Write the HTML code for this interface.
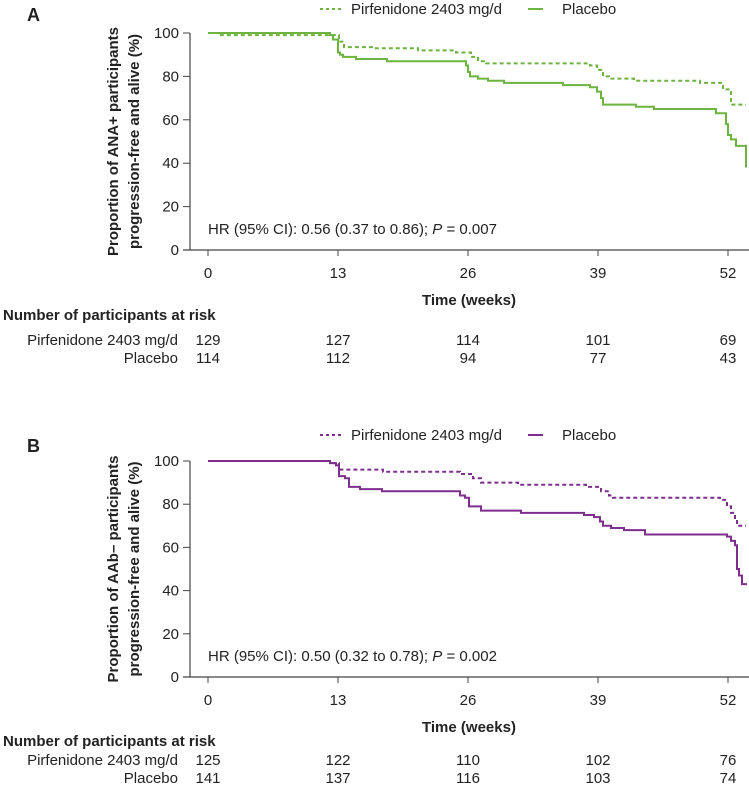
<!DOCTYPE html>
<html><head><meta charset="utf-8"><style>
body{margin:0;background:#fff;font-family:"Liberation Sans",sans-serif;}
svg text{font-family:"Liberation Sans",sans-serif;fill:#222;}
</style></head><body>
<svg id="c" width="749" height="796" xmlns="http://www.w3.org/2000/svg"></svg>
<script>
// weeks of step changes and survival (%) values
const xTicks=[0,13,26,39,52];
const yTicks=[0,20,40,60,80,100];
const aPirfT=[0,1,13.1,13.6,16.4,21,24.8,26.3,27,27.8,38.2,38.9,39.5,40.1,42.6,49.2,51.5,52.3,53.8];
const aPirfS=[100,99,96,93.5,93,92,91,89,87,86,85,83,80,79,78,77,74,67,67];
const aPlacT=[0,12.2,12.5,13,13.2,13.5,14.8,17.9,25.8,26,26.2,27,28,29.6,35.5,38.2,38.9,39.3,39.5,42.8,44.6,50.8,51.8,52,52.3,52.8,53.8];
const aPlacS=[100,99,97,91,90,89,88,87,85,82,80,79,78,77,76,75,73,70,67,66,65,63,58,53,51,48,38];
const bPirfT=[0,12.2,13.1,17.5,25.2,26.5,27.3,31,37.8,39.3,40.1,40.5,51.2,51.9,52.3,52.7,52.9,53.8];
const bPirfS=[100,99,96,95,94,92,90,89,88,86,84,83,82,79,76,73,70,70];
const bPlacT=[0,12.2,12.8,13.1,13.7,14.1,15.2,17.4,25.2,25.7,26.1,27.3,31.3,37.6,38.6,39.2,39.5,40.3,41.6,43.7,51.9,52.3,52.7,52.9,53.1,53.4,53.9];
const bPlacS=[100,99,98,93,92,88,87,86,84,83,79,77,76,75,74,72,70,69,68,66,65,63,61,50,47,43,43];
const riskA={pirf:[129,127,114,101,69],plac:[114,112,94,77,43]};
const riskB={pirf:[125,122,110,102,76],plac:[141,137,116,103,74]};

const svg=document.getElementById('c');
const NS='http://www.w3.org/2000/svg';
function el(t,a,txt){const e=document.createElementNS(NS,t);for(const k in a)e.setAttribute(k,a[k]);if(txt!==undefined)e.textContent=txt;svg.appendChild(e);return e;}

function panel(o){
  const X0=208,XS=10;
  const y0=o.y0,yh=o.y0-o.y100;
  const sx=w=>X0+w*XS, sy=v=>y0-v/100*yh;
  let t=el('text',{x:27,y:o.letterY,'font-size':18,'font-weight':'bold'},o.letter);
  
  
  let l=el('line',{x1:320,x2:344,y1:o.legY,y2:o.legY,stroke:o.col,'stroke-width':2,'stroke-dasharray':'3,3'});
  
  
  t=el('text',{x:351,y:o.legY+5,'font-size':15},'Pirfenidone 2403 mg/d');
  
  
  l=el('line',{x1:528,x2:543,y1:o.legY,y2:o.legY,stroke:o.col,'stroke-width':2});
  
  
  t=el('text',{x:562,y:o.legY+5,'font-size':15},'Placebo');
  
  
  l=el('line',{x1:190,x2:190,y1:sy(100),y2:y0,stroke:'#444','stroke-width':1.2});
  
  
  l=el('line',{x1:183,x2:749,y1:y0,y2:y0,stroke:'#444','stroke-width':1.2});
  
  
  yTicks.forEach(v=>{
    el('line',{x1:183,x2:190,y1:sy(v),y2:sy(v),stroke:'#444'});
    const tt=el('text',{x:179,y:sy(v)+5,'font-size':15,'text-anchor':'end'},v);
    
    
  });
  xTicks.forEach((v,i)=>{
    el('line',{x1:sx(v),x2:sx(v),y1:y0,y2:y0+6,stroke:'#444'});
    const tt=el('text',{x:sx(v),y:y0+28,'font-size':15,'text-anchor':'middle'},v);
    
    
    const a=el('text',{x:sx(v),y:o.rY1,'font-size':15,'text-anchor':'middle'},o.risk.pirf[i]);
    
    
    const b=el('text',{x:sx(v),y:o.rY2,'font-size':15,'text-anchor':'middle'},o.risk.plac[i]);
    
    
  });
  const cy=(y0+o.y100)/2;
  const g1=el('text',{transform:`translate(118,${cy}) rotate(-90)`,'font-size':15,'font-weight':'bold','text-anchor':'middle'},o.ytitle);
  
  
  const g2=el('text',{transform:`translate(139,${cy}) rotate(-90)`,'font-size':15,'font-weight':'bold','text-anchor':'middle'},'progression-free and alive (%)');
  
  
  t=el('text',{x:422,y:o.timeY,'font-size':15,'font-weight':'bold'},'Time (weeks)');
  
  
  t=el('text',{x:3,y:o.numY,'font-size':15,'font-weight':'bold'},'Number of participants at risk');
  
  
  t=el('text',{x:178,y:o.rY1,'font-size':15,'text-anchor':'end'},'Pirfenidone 2403 mg/d');
  
  
  t=el('text',{x:178,y:o.rY2,'font-size':15,'text-anchor':'end'},'Placebo');
  
  
  t=el('text',{x:208,y:y0-16,'font-size':15});
  
  
  t.innerHTML=o.hr[0]+'<tspan font-style="italic">P</tspan>'+o.hr[1];
  function step(T,S,dash,name){
    let d=`M${sx(T[0])},${sy(S[0])}`;
    for(let i=1;i<T.length;i++){d+=`H${sx(T[i])}V${sy(S[i])}`;}
    const p=el('path',{d,fill:'none',stroke:o.col,'stroke-width':2});
    if(dash)p.setAttribute('stroke-dasharray','4,3');
    
    
  }
  step(o.pT,o.pS,true,'pirfenidone-curve');
  step(o.cT,o.cS,false,'placebo-curve');
}
panel({letter:'A',letterY:21,y0:250,y100:33,legY:9,col:'#6cb33f',timeY:305,numY:320,rY1:345,rY2:363,risk:riskA,pT:aPirfT,pS:aPirfS,cT:aPlacT,cS:aPlacS,
  ytitle:'Proportion of ANA+ participants',hr:['HR (95% CI): 0.56 (0.37 to 0.86); ',' = 0.007']});
panel({letter:'B',letterY:452,y0:677,y100:461,legY:435,col:'#7e2f8e',timeY:732,numY:746,rY1:765,rY2:783,risk:riskB,pT:bPirfT,pS:bPirfS,cT:bPlacT,cS:bPlacS,
  ytitle:'Proportion of AAb– participants',hr:['HR (95% CI): 0.50 (0.32 to 0.78); ',' = 0.002']});
</script>
</body></html>
